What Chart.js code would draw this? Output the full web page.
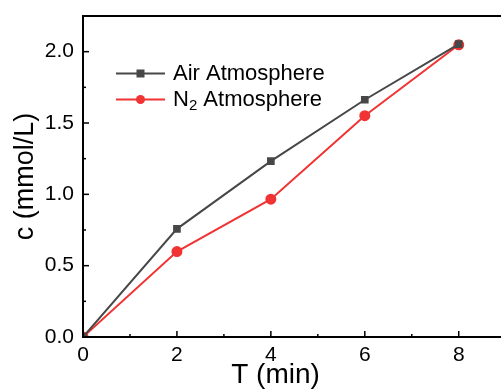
<!DOCTYPE html>
<html>
<head>
<meta charset="utf-8">
<script src="https://cdn.jsdelivr.net/npm/chart.js@4"></script>
<style>
html, body { margin: 0; padding: 0; background: #fff; overflow: hidden; }
#wrap { width: 501px; height: 390px; }
</style>
</head>
<body>
<div id="wrap"><canvas id="c" width="501" height="390"></canvas></div>
<script>
// ---------- DATA ----------
const times = [0, 2, 4, 6, 8];
const airValues = [0, 0.758, 1.233, 1.663, 2.053];
const n2Values = [0, 0.599, 0.966, 1.551, 2.048];
const seriesNames = ["Air Atmosphere", "N\u2082 Atmosphere"];
const xTicks = [0, 2, 4, 6, 8];
const yTicks = [0, 0.5, 1.0, 1.5, 2.0];
const xTitle = "T (min)";
const yTitle = "c (mmol/L)";

const FONT = "'Liberation Sans', Arial, sans-serif";

function toPoints(xs, ys){
  return xs.map((x, i) => ({ x: x, y: ys[i] }));
}

// draw a label, turning the subscript-two char into a real lowered small 2
function drawRichLabel(ctx, text, x, y, size){
  const parts = text.split("\u2082");
  let cx = x;
  parts.forEach((p, i) => {
    ctx.font = size + "px " + FONT;
    ctx.fillText(p, cx, y);
    cx += ctx.measureText(p).width;
    if(i < parts.length - 1){
      ctx.font = Math.round(size * 0.68) + "px " + FONT;
      ctx.fillText("2", cx, y + 6);
      cx += ctx.measureText("2").width;
    }
  });
}

// legend drawn inside plot area
const innerLegend = {
  id: "innerLegend",
  afterDatasetsDraw(chart){
    const ctx = chart.ctx;
    const a = chart.chartArea;
    const x0 = a.left + 33, x1 = a.left + 82, tx = a.left + 90;
    chart.data.datasets.forEach((ds, i) => {
      const y = a.top + 57.5 + i * 26;
      ctx.save();
      ctx.strokeStyle = ds.borderColor;
      ctx.lineWidth = 2;
      ctx.beginPath(); ctx.moveTo(x0, y); ctx.lineTo(x1, y); ctx.stroke();
      ctx.fillStyle = ds.pointBackgroundColor;
      const mx = (x0 + x1) / 2;
      if(ds.pointStyle === "rect"){
        ctx.fillRect(mx - 4, y - 4, 8, 8);
      } else {
        ctx.beginPath(); ctx.arc(mx, y, 4.5, 0, Math.PI * 2); ctx.fill();
      }
      ctx.fillStyle = "#000";
      ctx.textBaseline = "middle";
      drawRichLabel(ctx, ds.label, tx, y, 22);
      ctx.restore();
    });
  }
};

// frame: top line, minor ticks, inward ticks, x title (centred on the original, uncropped axis)
const frame = {
  id: "frame",
  afterDraw(chart){
    const ctx = chart.ctx;
    const a = chart.chartArea;
    const xs = chart.scales.x, ys = chart.scales.y;
    ctx.save();
    ctx.strokeStyle = "#000";
    ctx.lineWidth = 2;
    ctx.beginPath(); ctx.moveTo(a.left - 1, a.top); ctx.lineTo(a.right, a.top); ctx.stroke();
    ctx.beginPath(); ctx.moveTo(a.left, a.top); ctx.lineTo(a.left, a.bottom + 1); ctx.stroke();
    ctx.beginPath(); ctx.moveTo(a.left - 1, a.bottom); ctx.lineTo(a.right, a.bottom); ctx.stroke();
    ctx.lineWidth = 1.5;
    // x major + minor ticks
    for(let v = 1; v <= 8; v++){
      const px = xs.getPixelForValue(v);
      const len = v % 2 === 0 ? 6 : 3;
      ctx.beginPath(); ctx.moveTo(px, a.bottom); ctx.lineTo(px, a.bottom - len); ctx.stroke();
    }
    // y major + minor ticks
    for(let k = 1; k <= 8; k++){
      const v = k * 0.25;
      const py = ys.getPixelForValue(v);
      const len = k % 2 === 0 ? 6 : 3;
      ctx.beginPath(); ctx.moveTo(a.left, py); ctx.lineTo(a.left + len, py); ctx.stroke();
    }
    ctx.fillStyle = "#000";
    ctx.font = "28px " + FONT;
    ctx.textAlign = "center";
    ctx.textBaseline = "middle";
    ctx.fillText(xTitle, xs.getPixelForValue(4.1), xs.bottom - 14.8);
    ctx.restore();
  }
};

new Chart(document.getElementById("c"), {
  type: "line",
  data: {
    datasets: [
      {
        label: seriesNames[0],
        data: toPoints(times, airValues),
        borderColor: "#474747",
        backgroundColor: "#474747",
        pointBackgroundColor: "#474747",
        pointBorderColor: "#474747",
        pointStyle: "rect",
        pointRadius: 4,
        borderWidth: 2,
        tension: 0
      },
      {
        label: seriesNames[1],
        data: toPoints(times, n2Values),
        borderColor: "#f03333",
        backgroundColor: "#f03333",
        pointBackgroundColor: "#f03333",
        pointBorderColor: "#f03333",
        pointStyle: "circle",
        pointRadius: 4.5,
        borderWidth: 2,
        tension: 0
      }
    ]
  },
  options: {
    responsive: false,
    animation: false,
    layout: { autoPadding: false, padding: { top: 16, right: 0, left: 0, bottom: 0 } },
    plugins: { legend: { display: false }, tooltip: { enabled: false } },
    scales: {
      x: {
        type: "linear",
        min: 0,
        max: 8.9,
        afterBuildTicks: s => { s.ticks = xTicks.map(v => ({ value: v })); },
        afterFit: s => { s.height = 53; s.paddingLeft = 0; s.paddingRight = 0; },
        grid: { display: false, drawTicks: false },
        border: { display: false },
        ticks: {
          color: "#000",
          font: { family: FONT, size: 21 },
          padding: 6,
          maxRotation: 0,
          callback: v => String(v)
        },
        title: { display: false }
      },
      y: {
        min: 0,
        max: 2.25,
        afterBuildTicks: s => { s.ticks = yTicks.map(v => ({ value: v })); },
        afterFit: s => { s.width = 83; s.paddingTop = 0; s.paddingBottom = 0; },
        grid: { display: false, drawTicks: false },
        border: { display: false },
        ticks: {
          color: "#000",
          font: { family: FONT, size: 21 },
          padding: 9,
          callback: v => v.toFixed(1)
        },
        title: {
          display: true,
          text: yTitle,
          color: "#000",
          font: { family: FONT, size: 27 },
          padding: { top: 9, bottom: 0 }
        }
      }
    }
  },
  plugins: [innerLegend, frame]
});
</script>
</body>
</html>
